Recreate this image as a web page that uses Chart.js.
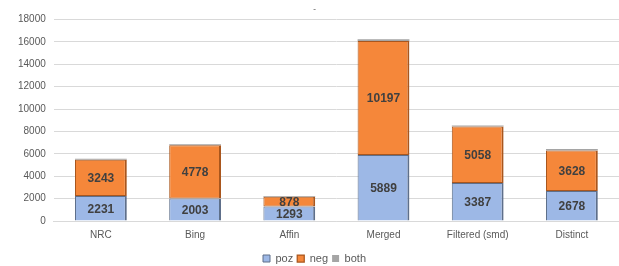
<!DOCTYPE html>
<html>
<head>
<meta charset="utf-8">
<script src="https://cdn.jsdelivr.net/npm/chart.js@4/dist/chart.umd.min.js"></script>
<style>
  html, body { margin: 0; padding: 0; background: #fff; }
  #wrap { width: 619px; height: 266px; position: relative; }
</style>
</head>
<body>
<div id="wrap"><canvas id="chart"></canvas></div>
<script>
// sources compared
const categories = ['NRC', 'Bing', 'Affin', 'Merged', 'Filtered (smd)', 'Distinct'];
const pozValues = [2231, 2003, 1293, 5889, 3387, 2678];
const negValues = [3243, 4778, 878, 10197, 5058, 3628];
const bothValues = [90, 80, 60, 150, 100, 120];
const yTicks = [0, 2000, 4000, 6000, 8000, 10000, 12000, 14000, 16000, 18000];

// labels drawn in the middle of poz / neg segments
const barLabels = {
    id: 'barLabels',
    afterDatasetsDraw: function(chart) {
        const ctx = chart.ctx;
        ctx.save();
        ctx.font = 'bold 12px "Liberation Sans", Arial, sans-serif';
        ctx.fillStyle = '#404040';
        ctx.textAlign = 'center';
        ctx.textBaseline = 'middle';
        [0, 1].forEach(function(di) {
            const meta = chart.getDatasetMeta(di);
            meta.data.forEach(function(bar, i) {
                const mid = (bar.y + bar.base) / 2;
                ctx.fillText(chart.data.datasets[di].data[i], bar.x, mid + 1);
            });
        });
        ctx.restore();
    }
};

new Chart(document.getElementById('chart'), {
    type: 'bar',
    data: {
        labels: categories,
        datasets: [
            {
                label: 'poz',
                data: pozValues,
                backgroundColor: '#9DB8E6',
                borderColor: '#5E6F8A',
                borderWidth: { top: 1, left: 1, right: 2, bottom: 0 },
                borderSkipped: false
            },
            {
                label: 'neg',
                data: negValues,
                backgroundColor: '#F5873A',
                borderColor: '#A9561D',
                borderWidth: { top: 1, left: 1, right: 2, bottom: 1 },
                borderSkipped: false
            },
            {
                label: 'both',
                data: bothValues,
                backgroundColor: '#A5A5A5',
                borderWidth: 0
            }
        ]
    },
    options: {
        responsive: true,
        maintainAspectRatio: false,
        animation: false,
        layout: { padding: { left: 10, right: 0, top: 4, bottom: -8 } },
        datasets: { bar: { categoryPercentage: 0.55, barPercentage: 1 } },
        scales: {
            x: {
                stacked: true,
                grid: { display: false, drawTicks: false },
                border: { color: '#D9D9D9' },
                ticks: {
                    color: '#595959',
                    font: { size: 10, family: 'Liberation Sans, Arial, sans-serif' },
                    padding: 8
                }
            },
            y: {
                stacked: true,
                min: 0,
                max: 18000,
                afterBuildTicks: function(axis) {
                    axis.ticks = yTicks.map(v => ({ value: v }));
                },
                grid: { color: '#D9D9D9', drawTicks: false },
                border: { display: false },
                ticks: {
                    color: '#595959',
                    padding: 8,
                    font: { size: 10, family: 'Liberation Sans, Arial, sans-serif' },
                    callback: function(value) {
                        return String(value);
                    }
                }
            }
        },
        plugins: {
            title: {
                display: true,
                text: '-',
                color: '#808080',
                font: { size: 8 },
                padding: { top: 0, bottom: 6 }
            },
            legend: {
                position: 'bottom',
                labels: {
                    boxWidth: 7,
                    boxHeight: 7,
                    padding: 4,
                    color: '#595959',
                    font: { size: 11, family: 'Liberation Sans, Arial, sans-serif' }
                }
            },
            tooltip: { enabled: false }
        }
    },
    plugins: [barLabels]
});
</script>
</body>
</html>
